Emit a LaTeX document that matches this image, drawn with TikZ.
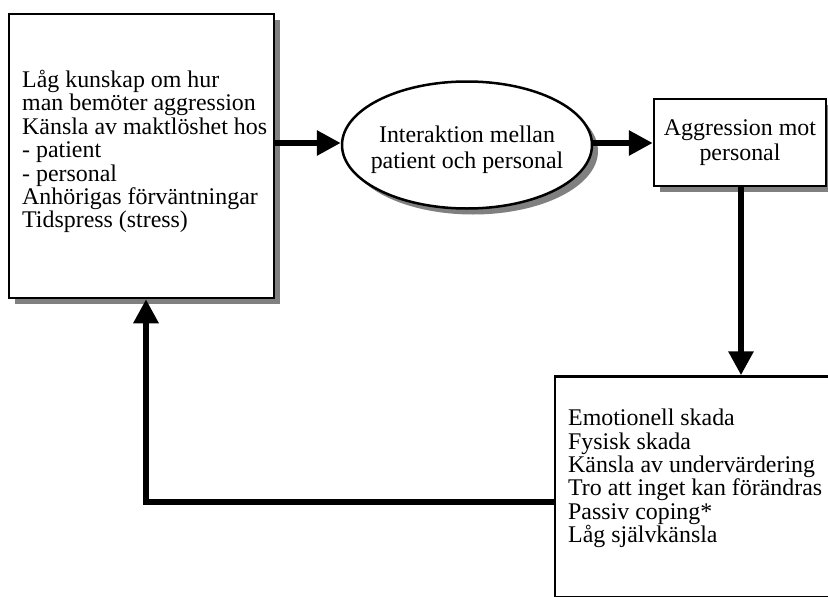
\documentclass[tikz,border=0pt]{standalone}
\usepackage{fontspec}
\setmainfont{Liberation Serif}
\usetikzlibrary{arrows.meta,shapes.geometric,shadows}
\begin{document}
\begin{tikzpicture}[x=1pt,y=-1pt,
  box/.style={draw=black, line width=2.5pt, fill=white, rectangle, inner sep=0pt},
  shad/.style={general shadow={fill=gray, draw=none, shadow xshift=6pt, shadow yshift=-6pt}},
  txt/.style={inner sep=0pt, font=\fontsize{23.9pt}{23.4pt}\selectfont},
  ctxt/.style={inner sep=0pt, align=center, font=\fontsize{23.9pt}{25.5pt}\selectfont},
  flow/.style={line width=6.5pt, -{Triangle[length=24pt,width=24pt]}},
]
\useasboundingbox (0,0) rectangle (828,597);
\clip (0,0) rectangle (828,597);
\fill[white] (0,0) rectangle (828,597);

% boxes
\node[box, shad, minimum width=265pt, minimum height=284pt] (b1) at (141.5,156) {};
\node[box, shad, ellipse, minimum width=250pt, minimum height=127pt] (e) at (467,145) {};
\node[box, shad, minimum width=172pt, minimum height=87pt, ctxt] (b2) at (740,142.5)
  {Aggression mot\\personal};
\node[box, minimum width=290pt, minimum height=221pt] (b3) at (700,487) {};

% texts
\node[txt, anchor=north west, align=left] (t1) at (22,70)
  {Låg kunskap om hur\\man bemöter aggression\\Känsla av maktlöshet hos\\- patient\\- personal\\Anhörigas förväntningar\\Tidspress (stress)};
\node[ctxt] (te) at (467,150) {Interaktion mellan\\patient och personal};
\node[txt, anchor=north west, align=left] (t3) at (568,409)
  {Emotionell skada\\Fysisk skada\\Känsla av undervärdering\\Tro att inget kan förändras\\Passiv coping*\\Låg självkänsla};

% connectors
\coordinate (r) at (146,502);
\draw[flow] (b1.east |- 0,143) -- (e.west |- 0,143);
\draw[flow] (e.east |- 0,143) -- (b2.west |- 0,143);
\draw[flow] (b2.south -| 741,0) -- (b3.north -| 741,0);
\draw[flow] (b3.west |- r) -- (r) -- (r |- b1.south);
\end{tikzpicture}
\end{document}
